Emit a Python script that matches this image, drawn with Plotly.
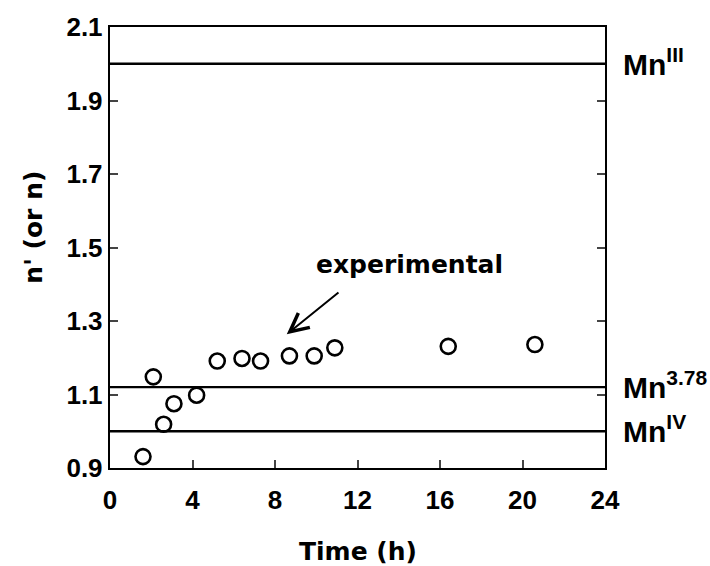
import plotly.graph_objects as go

# ---- data ----
time_h = [1.6, 2.1, 2.6, 3.1, 4.2, 5.2, 6.4, 7.3, 8.7, 9.9, 10.9, 16.4, 20.6]
n_val = [0.931, 1.148, 1.019, 1.075, 1.098, 1.191, 1.198, 1.191, 1.205, 1.205, 1.227, 1.231, 1.236]
ref_levels = [2.0, 1.12, 1.0]
ref_labels = ["Mn<sup>III</sup>", "Mn<sup>3.78</sup>", "Mn<sup>IV</sup>"]
x_ticks = [0, 4, 8, 12, 16, 20, 24]
y_ticks = [0.9, 1.1, 1.3, 1.5, 1.7, 1.9, 2.1]
arrow_head = (8.57, 1.264)
arrow_tail = (11.15, 1.381)
note_pos = (14.5, 1.455)

FONT = "Arial"
W, H = 710, 566
L, R, T, B = 110, 105, 22, 98

fig = go.Figure()
for lv in ref_levels:
    fig.add_trace(go.Scatter(x=[0, 24], y=[lv, lv], mode="lines",
                             line=dict(color="black", width=2.4), showlegend=False,
                             hoverinfo="skip"))
fig.add_trace(go.Scatter(x=time_h, y=n_val, mode="markers",
                         marker=dict(symbol="circle-open", size=15, color="black",
                                     line=dict(width=2.6, color="black")),
                         showlegend=False))

tickfont = dict(family=FONT, size=26, color="black", weight=700)
fig.update_xaxes(range=[0, 24], tickvals=x_ticks, ticktext=[str(v) for v in x_ticks],
                 ticks="inside", ticklen=8, tickwidth=2.4, ticklabelstandoff=8,
                 showline=True, linewidth=2.4, linecolor="black", mirror=True,
                 showgrid=False, zeroline=False, tickfont=tickfont)
fig.update_yaxes(range=[0.9, 2.1], tickvals=y_ticks,
                 ticktext=[f"{v:.1f}" for v in y_ticks],
                 ticks="inside", ticklen=8, tickwidth=2.4,
                 showline=True, linewidth=2.4, linecolor="black", mirror="ticks",
                 showgrid=False, zeroline=False, tickfont=tickfont)

anns = []
for lv, lab in zip(ref_levels, ref_labels):
    anns.append(dict(x=1.0, xref="paper", y=lv, yref="y", text=lab, showarrow=False,
                     xanchor="left", yanchor="middle", xshift=16, yshift=2,
                     font=dict(family=FONT, size=30, color="black", weight=700)))
anns.append(dict(x=arrow_head[0], y=arrow_head[1], xref="x", yref="y",
                 ax=arrow_tail[0], ay=arrow_tail[1], axref="x", ayref="y",
                 text="", showarrow=True, arrowhead=5, arrowsize=1.8, arrowwidth=2,
                 arrowcolor="black"))
anns.append(dict(x=note_pos[0], y=note_pos[1], xref="x", yref="y", text="<b>experimental</b>",
                 showarrow=False, xanchor="center", yanchor="middle",
                 font=dict(family="DejaVu Sans", size=25, color="black")))
anns.append(dict(x=0.5, xref="paper", y=-0.19, yref="paper", text="<b>Time (h)</b>",
                 showarrow=False, xanchor="center", yanchor="middle",
                 font=dict(family="DejaVu Sans", size=25, color="black")))
anns.append(dict(x=-76 / (W - L - R), xref="paper", y=0.545, yref="paper", text="<b>n' (or n)</b>",
                 showarrow=False, xanchor="center", yanchor="middle", textangle=-90,
                 font=dict(family="DejaVu Sans", size=25, color="black")))

fig.update_layout(width=W, height=H, margin=dict(l=L, r=R, t=T, b=B),
                  paper_bgcolor="white", plot_bgcolor="white", annotations=anns)
fig.write_html("out.html")
